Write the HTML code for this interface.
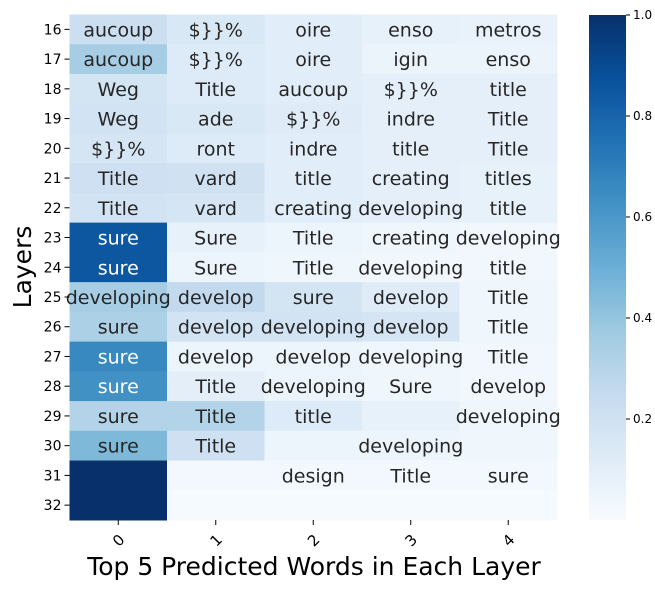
<!DOCTYPE html>
<html><head><meta charset="utf-8"><style>
html,body{margin:0;padding:0;background:#fff;}
svg{display:block;font-family:"DejaVu Sans","Liberation Sans",sans-serif;}
</style></head><body>
<svg id="chart" width="655" height="589" viewBox="0 0 655 589">
<defs><linearGradient id="cb" x1="0" y1="1" x2="0" y2="0">
<stop offset="0" stop-color="#f7fbff"/><stop offset="0.125" stop-color="#deebf7"/><stop offset="0.25" stop-color="#c6dbef"/><stop offset="0.375" stop-color="#9ecae1"/><stop offset="0.5" stop-color="#6baed6"/><stop offset="0.625" stop-color="#4292c6"/><stop offset="0.75" stop-color="#2171b5"/><stop offset="0.875" stop-color="#08519c"/><stop offset="1" stop-color="#08306b"/>
</linearGradient></defs>
<g id="cells"></g>
<g id="axes"></g>
<rect x="589" y="15" width="37" height="505" fill="url(#cb)"/>
<g id="cbticks"></g>
<text x="314" y="575" font-size="25" text-anchor="middle" fill="#000">Top 5 Predicted Words in Each Layer</text>
<text transform="translate(31,267) rotate(-90)" font-size="25" text-anchor="middle" fill="#000">Layers</text>
</svg>
<script>
const layers = [16,17,18,19,20,21,22,23,24,25,26,27,28,29,30,31,32];
const columns = [0,1,2,3,4];
const words = [
["aucoup","$}}%","oire","enso","metros"],
["aucoup","$}}%","oire","igin","enso"],
["Weg","Title","aucoup","$}}%","title"],
["Weg","ade","$}}%","indre","Title"],
["$}}%","ront","indre","title","Title"],
["Title","vard","title","creating","titles"],
["Title","vard","creating","developing","title"],
["sure","Sure","Title","creating","developing"],
["sure","Sure","Title","developing","title"],
["developing","develop","sure","develop","Title"],
["sure","develop","developing","develop","Title"],
["sure","develop","develop","developing","Title"],
["sure","Title","developing","Sure","develop"],
["sure","Title","title","","developing"],
["sure","Title","","developing",""],
["","","design","Title","sure"],
["","","","",""]
];
const probs = [
[0.22,0.15,0.11,0.08,0.07],
[0.35,0.13,0.11,0.06,0.06],
[0.18,0.13,0.11,0.09,0.09],
[0.19,0.15,0.12,0.09,0.09],
[0.17,0.13,0.11,0.09,0.09],
[0.21,0.20,0.11,0.09,0.08],
[0.19,0.17,0.11,0.09,0.08],
[0.85,0.08,0.05,0.04,0.03],
[0.85,0.05,0.04,0.03,0.03],
[0.35,0.26,0.18,0.12,0.04],
[0.33,0.19,0.19,0.17,0.04],
[0.66,0.05,0.05,0.04,0.03],
[0.63,0.10,0.05,0.04,0.03],
[0.31,0.31,0.13,0.08,0.04],
[0.45,0.21,0.05,0.05,0.04],
[1.00,0.02,0.02,0.02,0.02],
[1.00,0.01,0.01,0.01,0.01]
];
const cbTicks = [0.2,0.4,0.6,0.8,1.0];

const L=69.5,R=557,T=14.5,B=520;
const cw=(R-L)/columns.length, rh=(B-T)/layers.length;
const xPos=c=>L+c*cw, yPos=r=>T+r*rh;
const stops=[[247,251,255],[222,235,247],[198,219,239],[158,202,225],[107,174,214],[66,146,198],[33,113,181],[8,81,156],[8,48,107]];
function color(v){v=Math.max(0,Math.min(1,v));const p=v*8,i=Math.min(7,Math.floor(p)),f=p-i;const a=stops[i],b=stops[i+1];return `rgb(${a.map((x,k)=>Math.round(x+(b[k]-x)*f)).join(',')})`;}
const NS="http://www.w3.org/2000/svg";
const cells=document.getElementById('cells'),axes=document.getElementById('axes'),cbt=document.getElementById('cbticks');
function mk(tag,attrs,parent){const e=document.createElementNS(NS,tag);for(const k in attrs)e.setAttribute(k,attrs[k]);parent.appendChild(e);return e;}
layers.forEach((ly,r)=>{
  columns.forEach((c,ci)=>{
    const rc=mk('rect',{x:xPos(ci),y:yPos(r),width:cw+0.5,height:rh+0.5,fill:color(probs[r][ci])},cells);
    
    
  });
});
layers.forEach((ly,r)=>{
  columns.forEach((c,ci)=>{
    if(!words[r][ci])return;
    const t=mk('text',{x:xPos(ci)+cw/2,y:yPos(r)+rh/2+7,'font-size':19,'text-anchor':'middle',fill:probs[r][ci]>0.6?'#fff':'#262626'},cells);
    t.textContent=words[r][ci];
    
    
  });
  const y=yPos(r)+rh/2;
  mk('line',{x1:L-5,x2:L,y1:y,y2:y,stroke:'#000','stroke-width':1},axes);
  const t=mk('text',{x:L-8,y:y+5,'font-size':14,'text-anchor':'end',fill:'#000'},axes);
  t.textContent=ly;
  
  
});
columns.forEach((c,ci)=>{
  const x=xPos(ci)+cw/2;
  mk('line',{x1:x,x2:x,y1:B,y2:B+5,stroke:'#000','stroke-width':1},axes);
  const t=mk('text',{transform:`translate(${x+4},${B+24}) rotate(-45)`,'font-size':15,'text-anchor':'middle',fill:'#000'},axes);
  t.textContent=c;
  
  
});
cbTicks.forEach(v=>{
  const y=520-v*(520-15);
  mk('line',{x1:626,x2:630,y1:y,y2:y,stroke:'#000','stroke-width':1},cbt);
  const t=mk('text',{x:633,y:y+4,'font-size':12,fill:'#000'},cbt);
  t.textContent=v.toFixed(1);
  
  
});
</script>
</body></html>
